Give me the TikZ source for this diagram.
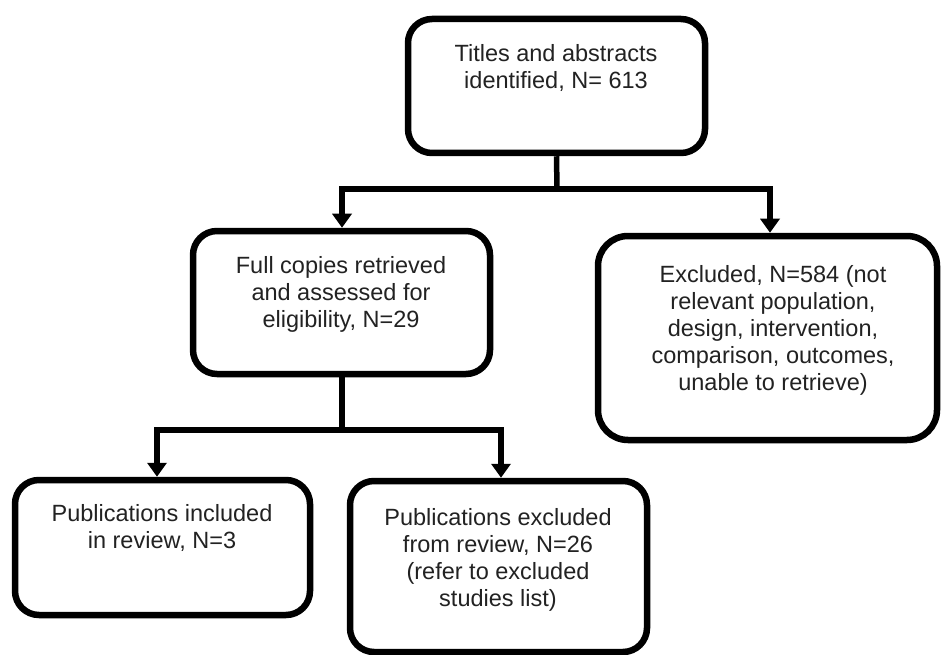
\documentclass[tikz,border=0pt]{standalone}
\usepackage{fontspec}
\setmainfont{Liberation Sans}
\usetikzlibrary{arrows.meta}
\definecolor{txt}{HTML}{222222}
\tikzset{
  box/.style={draw=black, line width=6.5pt, rounded corners=24pt, inner sep=0pt, fill=white},
  lbl/.style={align=center, text=txt, inner sep=0pt, anchor=base, font=\fontsize{23.5pt}{27pt}\selectfont},
  conn/.style={line width=5.5pt, draw=black},
  arr/.style={conn, -{Triangle[width=19pt,length=14pt]}},
}
\begin{document}
\begin{tikzpicture}[x=1pt,y=-1pt]
\useasboundingbox (0,0) rectangle (942,655);
% boxes
\node[box, minimum width=297pt, minimum height=134pt] (top) at (556.5,86) {};
\node[box, minimum width=297pt, minimum height=143pt] (mid) at (341.5,302.5) {};
\node[box, rounded corners=30pt, minimum width=339pt, minimum height=204pt] (excl) at (767.5,338) {};
\node[box, minimum width=295pt, minimum height=135pt] (incl) at (162.5,547.5) {};
\node[box, minimum width=297pt, minimum height=171pt] (exrev) at (498.5,566.5) {};
% texts (anchored at the baseline of the last line)
\node[lbl] (ttop) at (556,89) {Titles and abstracts\\identified, N= 613};
\node[lbl] (tmid) at (341,327) {Full copies retrieved\\and assessed for\\eligibility, N=29};
\node[lbl] (texcl) at (773,390) {Excluded, N=584 (not\\relevant population,\\design, intervention,\\comparison, outcomes,\\unable to retrieve)};
\node[lbl] (tincl) at (162,548) {Publications included\\in review, N=3};
\node[lbl] (texrev) at (498,606) {Publications excluded\\from review, N=26\\(refer to excluded\\studies list)};
% connectors
\coordinate (j1) at (557,189);
\coordinate (a1) at (342,0);
\coordinate (a2) at (770,0);
\coordinate (j2) at (342,430);
\coordinate (a3) at (157,0);
\coordinate (a4) at (501,0);
\draw[conn] (top.south) -- (j1);
\draw[arr, line join=miter] (j1) -| (a1 |- mid.north);
\draw[arr, line join=miter] (j1) -| (a2 |- excl.north);
\draw[conn] (j2 |- mid.south) -- (j2);
\draw[arr, line join=miter] (j2) -| (a3 |- incl.north);
\draw[arr, line join=miter] (j2) -| (a4 |- exrev.north);
\end{tikzpicture}
\end{document}
